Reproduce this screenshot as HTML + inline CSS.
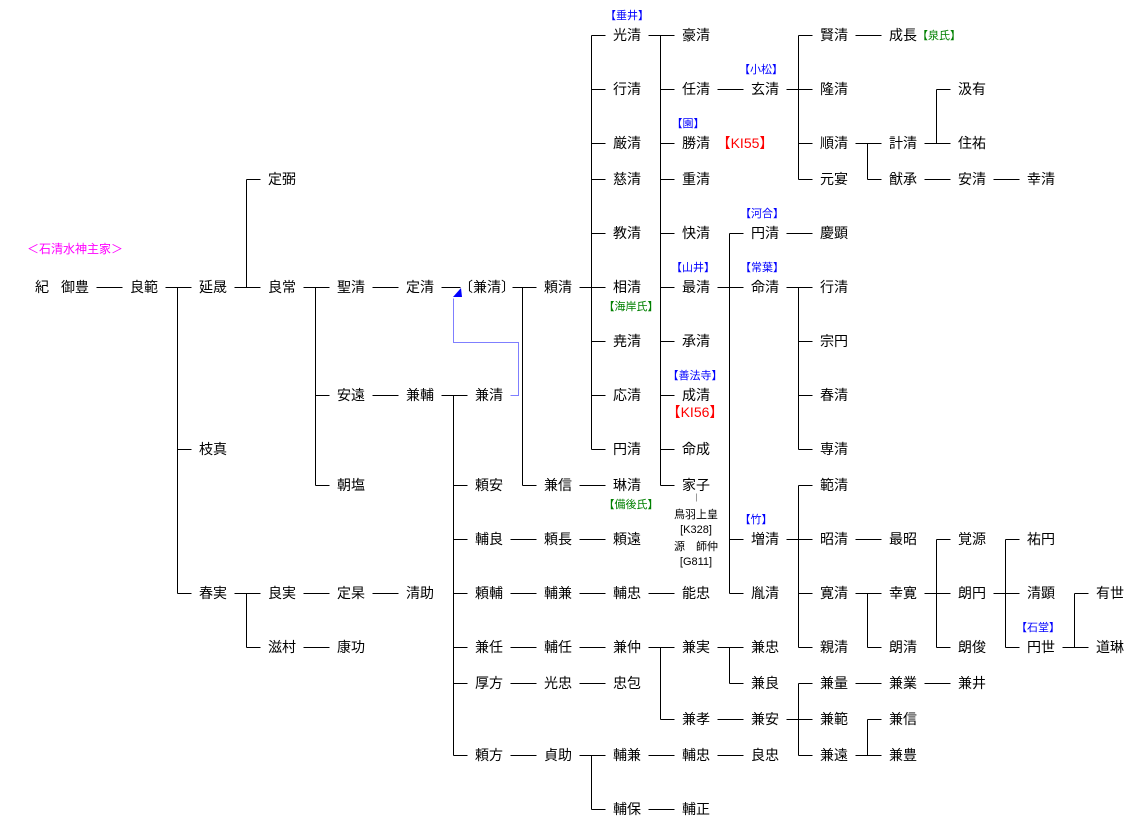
<!DOCTYPE html>
<html><head><meta charset="utf-8"><style>
html,body{margin:0;padding:0;background:#fff;}
svg{display:block;}
text{font-family:"Liberation Sans","Noto Sans CJK JP",sans-serif;font-size:14px;fill:#000;text-anchor:middle;dominant-baseline:central;}
.s{font-size:11px;}
.b{fill:#0000ff;font-size:11px;}
.g{fill:#008000;font-size:11px;}
.r{fill:#ff0000;font-size:14px;}
.m{fill:#ff00ff;font-size:12px;}
</style></head><body>
<svg width="1125" height="833" viewBox="0 0 1125 833" xmlns="http://www.w3.org/2000/svg">
<g transform="translate(0.5,0.5)" stroke="#000" stroke-width="1" fill="none" shape-rendering="crispEdges">
<path d="M96 287H122
M165 287H191 M177 287V593 M177 449H191 M177 593H191
M234 287H260 M246 179V287 M246 179H260
M303 287H329 M315 287V485 M315 395H329 M315 485H329
M372 287H398 M441 287H460
M372 395H398
M441 395H467 M453 395V755 M453 485H467 M453 539H467 M453 593H467 M453 647H467 M453 683H467 M453 755H467
M512 287H536 M522 287V485 M522 485H536
M579 287H605 M591 35V449 M591 35H605 M591 89H605 M591 143H605 M591 179H605 M591 233H605 M591 341H605 M591 395H605 M591 449H605
M579 485H605
M510 539H536 M579 539H605
M510 593H536 M579 593H605 M648 593H674
M510 647H536 M579 647H605 M648 647H674 M660 647V719 M660 719H674
M717 647H743 M729 647V683 M729 683H743
M717 719H743 M786 719H812 M798 683V755 M798 683H812 M798 755H812
M855 683H881 M924 683H950
M855 755H881 M867 719V755 M867 719H881
M510 683H536 M579 683H605
M510 755H536 M579 755H605 M591 755V809 M591 809H605
M648 755H674 M717 755H743
M648 809H674
M648 35H674 M660 35V485 M660 89H674 M660 143H674 M660 179H674 M660 233H674 M660 287H674 M660 341H674 M660 395H674 M660 449H674 M660 485H674
M717 89H743
M786 89H812 M798 35V179 M798 35H812 M798 143H812 M798 179H812
M855 35H881
M855 143H881 M867 143V179 M867 179H881
M924 143H950 M936 89V143 M936 89H950
M924 179H950 M993 179H1019
M717 287H743 M729 233V593 M729 233H743 M729 539H743 M729 593H743
M786 233H812
M786 287H812 M798 287V449 M798 341H812 M798 395H812 M798 449H812
M786 539H812 M798 485V647 M798 485H812 M798 593H812 M798 647H812
M855 539H881
M855 593H881 M867 593V647 M867 647H881
M924 593H950 M936 539V647 M936 539H950 M936 647H950
M993 593H1019 M1005 539V647 M1005 539H1019 M1005 647H1019
M1062 647H1088 M1074 593V647 M1074 593H1088
M234 593H260 M246 593V647 M246 647H260
M303 593H329 M372 593H398
M303 647H329"/>
<path d="M510 395H518V342H453V298" stroke="#7f7fff"/>
<path d="M696 493V501" stroke="#999"/>
</g>
<polygon points="453,297 461,288 462,297" fill="#0000ff"/>

<text class="m" x="75" y="249">＜石清水神主家＞</text>
<text x="42" y="287">紀</text><text x="75" y="287">御豊</text>
<text x="144" y="287">良範</text>
<text x="213" y="287">延晟</text><text x="213" y="449">枝真</text><text x="213" y="593">春実</text>
<text x="282" y="179">定弼</text><text x="282" y="287">良常</text><text x="282" y="593">良実</text><text x="282" y="647">滋村</text>
<text x="351" y="287">聖清</text><text x="351" y="395">安遠</text><text x="351" y="485">朝塩</text><text x="351" y="593">定杲</text><text x="351" y="647">康功</text>
<text x="420" y="287">定清</text><text x="420" y="395">兼輔</text><text x="420" y="593">清助</text>
<text x="487" y="287">〔兼清〕</text><text x="489" y="395">兼清</text><text x="489" y="485">頼安</text><text x="489" y="539">輔良</text><text x="489" y="593">頼輔</text><text x="489" y="647">兼任</text><text x="489" y="683">厚方</text><text x="489" y="755">頼方</text>
<text x="558" y="287">頼清</text><text x="558" y="485">兼信</text><text x="558" y="539">頼長</text><text x="558" y="593">輔兼</text><text x="558" y="647">輔任</text><text x="558" y="683">光忠</text><text x="558" y="755">貞助</text>
<text class="b" x="627" y="16">【垂井】</text>
<text x="627" y="35">光清</text><text x="627" y="89">行清</text><text x="627" y="143">厳清</text><text x="627" y="179">慈清</text><text x="627" y="233">教清</text><text x="627" y="287">相清</text>
<text class="g" x="631" y="307">【海岸氏】</text>
<text x="627" y="341">尭清</text><text x="627" y="395">応清</text><text x="627" y="449">円清</text><text x="627" y="485">琳清</text>
<text class="g" x="631" y="505">【備後氏】</text>
<text x="627" y="539">頼遠</text><text x="627" y="593">輔忠</text><text x="627" y="647">兼仲</text><text x="627" y="683">忠包</text><text x="627" y="755">輔兼</text><text x="627" y="809">輔保</text>
<text x="696" y="35">豪清</text><text x="696" y="89">任清</text>
<text class="b" x="688" y="124">【園】</text>
<text x="696" y="143">勝清</text><text x="696" y="179">重清</text><text x="696" y="233">快清</text>
<text class="b" x="693" y="268">【山井】</text>
<text x="696" y="287">最清</text><text x="696" y="341">承清</text>
<text class="b" x="695" y="376">【善法寺】</text>
<text x="696" y="395">成清</text>
<text class="r" x="695" y="412">【KI56】</text>
<text x="696" y="449">命成</text><text x="696" y="485">家子</text>
<text class="s" x="696" y="515">鳥羽上皇</text><text class="s" x="696" y="530">[K328]</text><text class="s" x="696" y="547">源　師仲</text><text class="s" x="696" y="562">[G811]</text>
<text x="696" y="593">能忠</text><text x="696" y="647">兼実</text><text x="696" y="719">兼孝</text><text x="696" y="755">輔忠</text><text x="696" y="809">輔正</text>
<text class="r" x="745" y="143">【KI55】</text>
<text class="b" x="761" y="70">【小松】</text>
<text x="765" y="89">玄清</text>
<text class="b" x="762" y="214">【河合】</text>
<text x="765" y="233">円清</text>
<text class="b" x="762" y="268">【常葉】</text>
<text x="765" y="287">命清</text>
<text class="b" x="756" y="520">【竹】</text>
<text x="765" y="539">増清</text><text x="765" y="593">胤清</text><text x="765" y="647">兼忠</text><text x="765" y="683">兼良</text><text x="765" y="719">兼安</text><text x="765" y="755">良忠</text>
<text x="834" y="35">賢清</text><text x="834" y="89">隆清</text><text x="834" y="143">順清</text><text x="834" y="179">元宴</text><text x="834" y="233">慶顕</text><text x="834" y="287">行清</text><text x="834" y="341">宗円</text><text x="834" y="395">春清</text><text x="834" y="449">専清</text><text x="834" y="485">範清</text><text x="834" y="539">昭清</text><text x="834" y="593">寛清</text><text x="834" y="647">親清</text><text x="834" y="683">兼量</text><text x="834" y="719">兼範</text><text x="834" y="755">兼遠</text>
<text x="903" y="35">成長</text>
<text class="g" x="939" y="36">【泉氏】</text>
<text x="903" y="143">計清</text><text x="903" y="179">猷承</text><text x="903" y="539">最昭</text><text x="903" y="593">幸寛</text><text x="903" y="647">朗清</text><text x="903" y="683">兼業</text><text x="903" y="719">兼信</text><text x="903" y="755">兼豊</text>
<text x="972" y="89">汲有</text><text x="972" y="143">住祐</text><text x="972" y="179">安清</text><text x="972" y="539">覚源</text><text x="972" y="593">朗円</text><text x="972" y="647">朗俊</text><text x="972" y="683">兼井</text>
<text x="1041" y="179">幸清</text><text x="1041" y="539">祐円</text><text x="1041" y="593">清顕</text>
<text class="b" x="1038" y="628">【石堂】</text>
<text x="1041" y="647">円世</text>
<text x="1110" y="593">有世</text><text x="1110" y="647">道琳</text>
</svg>
</body></html>
